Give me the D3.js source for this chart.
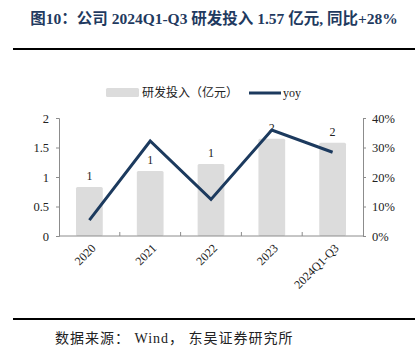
<!DOCTYPE html>
<html>
<head>
<meta charset="utf-8">
<script src="https://cdn.jsdelivr.net/npm/d3@7"></script>
<style>
  body { margin: 0; background: #fff; }
  svg text { font-family: "Liberation Serif", "Noto Sans CJK SC", serif; }
</style>
</head>
<body>
<div class="chart"></div>
<script>
const categories = ["2020", "2021", "2022", "2023", "2024Q1-Q3"];
const rdSpend = [0.83, 1.1, 1.22, 1.65, 1.58];
const yoy = [0.054, 0.322, 0.124, 0.359, 0.284];
const leftTicks = [0, 0.5, 1, 1.5, 2];
const rightTicks = [0, 0.1, 0.2, 0.3, 0.4];

const width = 418, height = 359,
  margin = { left: 59, right: 55, top: 118, bottom: 123 },
  navy = "#1c3a5e",
  axisColor = "#8c8c8c";

const svg = d3.select(".chart").append("svg")
  .attr("width", width)
  .attr("height", height);

// title + rules
svg.append("text")
  .attr("x", 214).attr("y", 24)
  .attr("text-anchor", "middle")
  .style("font-size", "15.5px")
  .style("font-weight", "bold")
  .style("fill", "#1f3a60")
  .text("图10：公司 2024Q1-Q3 研发投入 1.57 亿元, 同比+28%");

svg.append("line")
  .attr("x1", 13).attr("x2", 415).attr("y1", 49).attr("y2", 49)
  .attr("stroke", "#000").attr("stroke-width", 2);

svg.append("line")
  .attr("x1", 13).attr("x2", 415).attr("y1", 319).attr("y2", 319)
  .attr("stroke", "#000").attr("stroke-width", 2);

svg.append("text")
  .attr("x", 55).attr("y", 343)
  .style("font-size", "14px")
  .style("letter-spacing", "1px")
  .style("fill", "#222")
  .text("数据来源： Wind， 东吴证券研究所");

const x = d3.scaleBand()
  .domain(categories)
  .range([margin.left, width - margin.right])
  .paddingInner(0.56)
  .paddingOuter(0.28);

const yL = d3.scaleLinear().domain([0, 2]).range([height - margin.bottom, margin.top]);
const yR = d3.scaleLinear().domain([0, 0.4]).range([height - margin.bottom, margin.top]);

// bars
svg.append("g").selectAll("rect")
  .data(rdSpend)
  .enter()
  .append("rect")
  .attr("x", (d, i) => x(categories[i]))
  .attr("y", d => yL(d))
  .attr("width", x.bandwidth())
  .attr("height", d => yL(0) - yL(d))
  .attr("rx", 1.5)
  .attr("fill", "#dcdcdc");

// bar labels
svg.append("g").selectAll("text")
  .data(rdSpend)
  .enter()
  .append("text")
  .attr("x", (d, i) => x(categories[i]) + x.bandwidth() / 2)
  .attr("y", d => yL(d) - 7)
  .attr("text-anchor", "middle")
  .style("font-size", "12px")
  .style("fill", "#222")
  .text(d => d3.format(".0f")(d));

// axes
const axisL = svg.append("g")
  .attr("transform", `translate(${margin.left},0)`)
  .call(d3.axisLeft(yL).tickValues(leftTicks).tickSize(3).tickPadding(7).tickFormat(d3.format("")));

const axisR = svg.append("g")
  .attr("transform", `translate(${width - margin.right},0)`)
  .call(d3.axisRight(yR).tickValues(rightTicks).tickSize(3).tickPadding(6).tickFormat(d3.format(".0%")));

const step = x.step();
const boundaries = d3.range(categories.length + 1).map(i => margin.left + i * step);

const axisB = svg.append("g")
  .attr("transform", `translate(0,${height - margin.bottom})`);
axisB.append("line")
  .attr("x1", margin.left).attr("x2", width - margin.right)
  .attr("stroke", axisColor);
axisB.selectAll(".bt")
  .data(boundaries.slice(1, -1))
  .enter()
  .append("line")
  .attr("class", "bt")
  .attr("x1", d => d).attr("x2", d => d)
  .attr("y1", 0).attr("y2", -4)
  .attr("stroke", axisColor);
axisB.selectAll("text")
  .data(categories)
  .enter()
  .append("text")
  .attr("transform", d => `translate(${x(d) + x.bandwidth() / 2 + 4},${10}) rotate(-45)`)
  .attr("text-anchor", "end")
  .attr("dy", "0.35em")
  .style("font-size", "12px")
  .style("fill", "#222")
  .text(d => d);

[axisL, axisR].forEach(a => {
  a.select(".domain").attr("stroke", axisColor);
  a.selectAll(".tick line").attr("stroke", axisColor);
  a.selectAll(".tick text")
    .style("font-size", "12.5px")
    .style("fill", "#222")
    .style("font-family", "Liberation Serif");
});

// yoy line
const line = d3.line()
  .x((d, i) => x(categories[i]) + x.bandwidth() / 2)
  .y(d => yR(d));

svg.append("path")
  .datum(yoy)
  .attr("d", line)
  .attr("fill", "none")
  .attr("stroke", navy)
  .attr("stroke-width", 3);

// legend
const legend = svg.append("g").attr("transform", "translate(0,93)");
legend.append("rect")
  .attr("x", 106).attr("y", -5)
  .attr("width", 33).attr("height", 9)
  .attr("rx", 1.5)
  .attr("fill", "#dcdcdc");
legend.append("text")
  .attr("x", 142).attr("y", 0)
  .attr("dy", "0.35em")
  .style("font-size", "12px")
  .style("fill", "#222")
  .text("研发投入（亿元）");
legend.append("line")
  .attr("x1", 249).attr("x2", 281)
  .attr("stroke", navy).attr("stroke-width", 3);
legend.append("text")
  .attr("x", 283).attr("y", 0)
  .attr("dy", "0.3em")
  .style("font-size", "12px")
  .style("fill", "#222")
  .text("yoy");
</script>
</body>
</html>
